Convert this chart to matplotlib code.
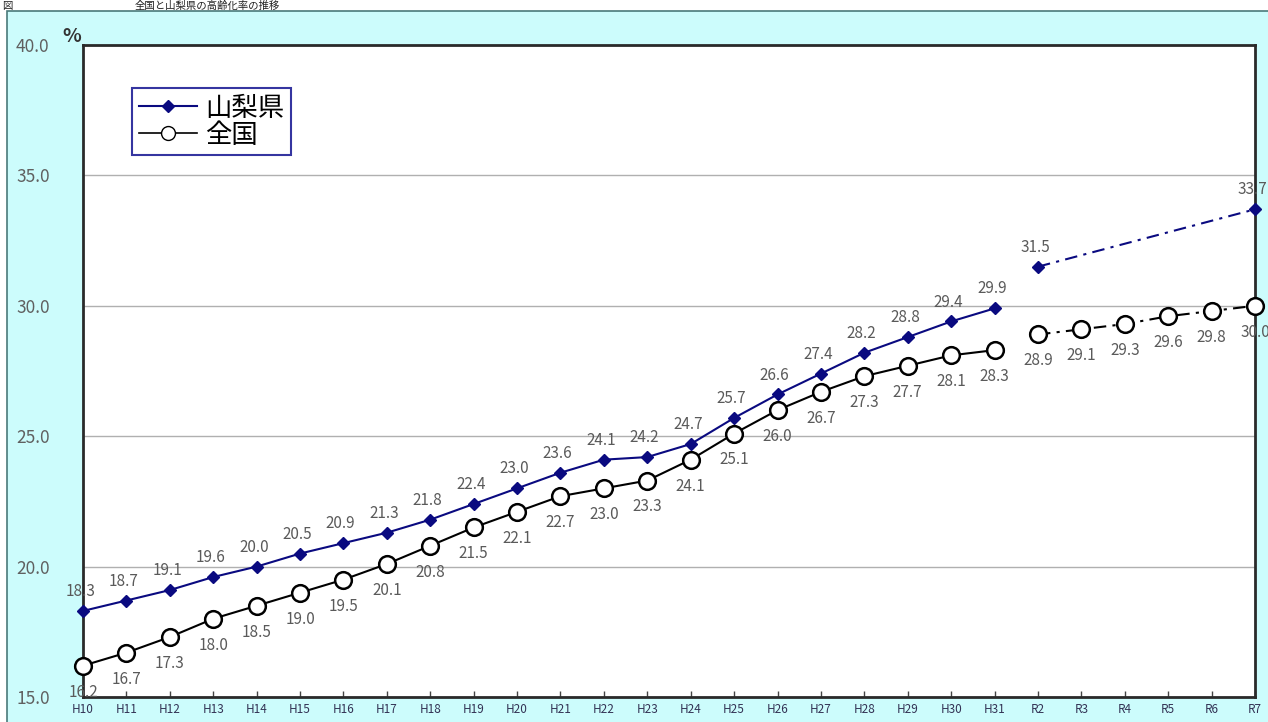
import numpy as np
import matplotlib
matplotlib.use('Agg')
import matplotlib.pyplot as plt
from matplotlib.patches import Rectangle
from matplotlib.lines import Line2D

plt.rcParams['font.family'] = ['Noto Sans CJK JP', 'DejaVu Sans']

years = ['H10', 'H11', 'H12', 'H13', 'H14', 'H15', 'H16', 'H17', 'H18', 'H19', 'H20',
         'H21', 'H22', 'H23', 'H24', 'H25', 'H26', 'H27', 'H28', 'H29', 'H30', 'H31',
         'R2', 'R3', 'R4', 'R5', 'R6', 'R7']

# 山梨県 (actual H10-H31, projection R2 and R7)
pref_actual = [18.3, 18.7, 19.1, 19.6, 20.0, 20.5, 20.9, 21.3, 21.8, 22.4, 23.0,
               23.6, 24.1, 24.2, 24.7, 25.7, 26.6, 27.4, 28.2, 28.8, 29.4, 29.9]
pref_future_years = ['R2', 'R7']
pref_future = [31.5, 33.7]

# 全国
nat_actual = [16.2, 16.7, 17.3, 18.0, 18.5, 19.0, 19.5, 20.1, 20.8, 21.5, 22.1,
              22.7, 23.0, 23.3, 24.1, 25.1, 26.0, 26.7, 27.3, 27.7, 28.1, 28.3]
nat_future_years = ['R2', 'R3', 'R4', 'R5', 'R6', 'R7']
nat_future = [28.9, 29.1, 29.3, 29.6, 29.8, 30.0]

blue = '#0a0a80'
label_gray = '#5a5a5a'

fig = plt.figure(figsize=(12.68, 7.22), dpi=100)
fig.patch.set_facecolor('white')

# cyan panel behind the chart
fig.patches.append(Rectangle((7 / 1268, -0.01), 1.02, 1 - 11 / 722 + 0.01,
                             transform=fig.transFigure, facecolor='#ccfcfc',
                             edgecolor='#4a7a7a', linewidth=1.2, zorder=-10))

# title squeezed into the strip above the panel
fig.text(2 / 1268, 1 - 1 / 722, '図', fontsize=7.5, va='top', ha='left', color='#222222')
fig.text(135 / 1268, 1 - 1 / 722, '全国と山梨県の高齢化率の推移', fontsize=7.5,
         va='top', ha='left', color='#222222')

ax = fig.add_axes([83 / 1268, 1 - 697 / 722, 1172 / 1268, 652 / 722])
ax.set_facecolor('white')

idx = {y: i for i, y in enumerate(years)}
xa = np.arange(len(pref_actual))
xpf = [idx[y] for y in pref_future_years]
xnf = [idx[y] for y in nat_future_years]

dashdot = (0, (6, 3, 1.5, 3))

ax.plot(xa, pref_actual, color=blue, lw=1.5, marker='D', ms=6,
        mfc=blue, mec=blue, clip_on=False, zorder=4)
ax.plot(xpf, pref_future, color=blue, lw=1.5, linestyle=dashdot, marker='D', ms=6,
        mfc=blue, mec=blue, clip_on=False, zorder=4)

ax.plot(xa, nat_actual, color='black', lw=1.5, marker='o', ms=12,
        mfc='white', mec='black', mew=1.8, clip_on=False, zorder=4)
ax.plot(xnf, nat_future, color='black', lw=1.5, linestyle=dashdot, marker='o', ms=12,
        mfc='white', mec='black', mew=1.8, clip_on=False, zorder=4)

for x, v in list(zip(xa, pref_actual)) + list(zip(xpf, pref_future)):
    ax.annotate(f'{v:.1f}', (x, v), xytext=(-2, 14), textcoords='offset points',
                ha='center', va='center', fontsize=11, color=label_gray, zorder=5)
for x, v in list(zip(xa, nat_actual)) + list(zip(xnf, nat_future)):
    ax.annotate(f'{v:.1f}', (x, v), xytext=(0, -19), textcoords='offset points',
                ha='center', va='center', fontsize=11, color=label_gray, zorder=5)

ax.set_xlim(0, len(years) - 1)
ax.set_ylim(15, 40)
ax.set_xticks(range(len(years)))
ax.set_xticklabels(years, fontsize=8.5, color='#333355')
ax.set_yticks([15, 20, 25, 30, 35, 40])
ax.set_yticklabels(['15.0', '20.0', '25.0', '30.0', '35.0', '40.0'],
                   fontsize=12.5, color='#606060')
ax.tick_params(axis='x', direction='in', length=4, width=1, color='#444444', pad=4)
ax.tick_params(axis='y', length=0, pad=24)
ax.yaxis.grid(True, color='#b0b0b0', lw=1)
ax.set_axisbelow(True)
for s in ax.spines.values():
    s.set_color('#2a2a2a')
    s.set_linewidth(2)

fig.text(62 / 1268, 1 - 37 / 722, '%', fontsize=14, fontweight='bold',
         color='#333333', ha='left', va='center')

handles = [
    Line2D([], [], color=blue, lw=1.5, marker='D', ms=6, mfc=blue, mec=blue),
    Line2D([], [], color='black', lw=1.2, marker='o', ms=10, mfc='white', mec='black'),
]
leg = ax.legend(handles, ['山梨県', '全国'], loc='upper left',
                bbox_to_anchor=(0.042, 0.934), borderaxespad=0, fontsize=19,
                fancybox=False, framealpha=1, edgecolor='#3535a0',
                handlelength=2.2, handletextpad=0.3, borderpad=0.25, labelspacing=0.0)
leg.get_frame().set_linewidth(1.5)

fig.savefig('out.png', dpi=100)
